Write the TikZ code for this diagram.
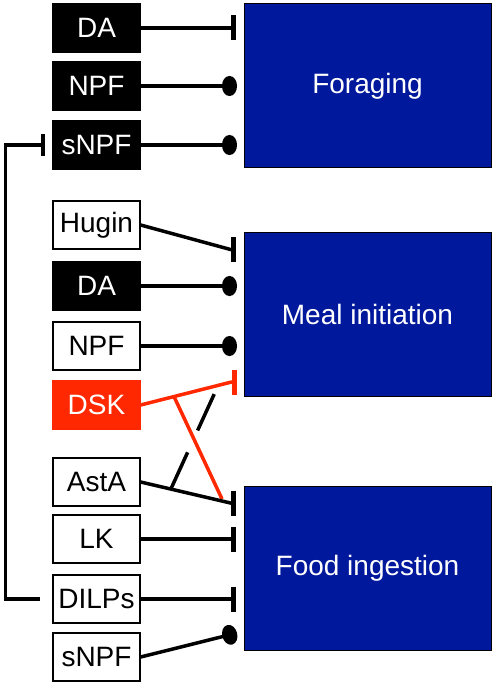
\documentclass[tikz,border=0pt]{standalone}
\usepackage{fontspec}
\setmainfont{Liberation Sans}
\usetikzlibrary{arrows.meta}
\definecolor{navy}{RGB}{0,24,155}
\definecolor{dskred}{RGB}{255,40,0}
\begin{document}
\begin{tikzpicture}[x=1pt,y=-1pt,
  lbl/.style={font=\fontsize{28}{31}\selectfont},
  wbox/.style={lbl, draw=black, line width=1.3pt, fill=white, minimum width=87pt, minimum height=48pt, inner sep=0pt, text=black},
  bbox/.style={wbox, fill=black, text=white},
  rbox/.style={wbox, draw=dskred, fill=dskred, text=white},
  target/.style={lbl, draw=black, line width=1pt, fill=navy, text=white, minimum width=247pt, minimum height=164pt, inner sep=0pt},
  conn/.style={line width=3.5pt},
  inh/.style={conn, -{Bar[width=25pt,line width=4.5pt]}},
  act/.style={conn, -{Circle[length=15pt,width=20pt]}},
]
\useasboundingbox (0,0) rectangle (496,687);

% targets
\node[target] (forage) at (367.5,86) {Foraging};
\node[target] (meal) at (367.5,314) {Meal initiation};
\node[target] (food) at (367.5,568) {Food ingestion};

% sources
\node[bbox] (da1) at (96.5,28) {DA};
\node[bbox] (npf1) at (96.5,86) {NPF};
\node[bbox] (snpf1) at (96.5,145) {sNPF};
\node[wbox] (hugin) at (96.5,225) {Hugin};
\node[bbox] (da2) at (96.5,286) {DA};
\node[wbox] (npf2) at (96.5,346) {NPF};
\node[rbox] (dsk) at (96.5,405) {DSK};
\node[wbox] (asta) at (96.5,482) {AstA};
\node[wbox] (lk) at (96.5,539) {LK};
\node[wbox] (dilps) at (96.5,599) {DILPs};
\node[wbox] (snpf2) at (96.5,657) {sNPF};

% connector end points
\coordinate (fDA1) at (235.5,28);
\coordinate (fNPF1) at (237,86);
\coordinate (fSNPF1) at (237,145);
\coordinate (fHugin) at (235.5,249.5);
\coordinate (fDA2) at (237,286);
\coordinate (fNPF2) at (237,346);
\coordinate (fDSK) at (236.5,382);
\coordinate (fAstA) at (235.5,503);
\coordinate (fLK) at (235.5,539);
\coordinate (fDILPs) at (235.5,599);
\coordinate (fSNPF2) at (237,633);
\coordinate (redEnd) at (222,499);
\coordinate (dashEnd) at (217,388);
\coordinate (dilpsFree) at (40,599);
\coordinate (loopB) at (5.5,599);
\coordinate (loopT) at (5.5,145);

% foraging
\draw[inh] (da1.east) -- (fDA1);
\draw[act] (npf1.east) -- (fNPF1);
\draw[act] (snpf1.east) -- (fSNPF1);

% meal initiation
\draw[inh] (hugin.east) -- ([xshift=-5pt]fHugin) -- (fHugin);
\draw[act] (da2.east) -- (fDA2);
\draw[act] (npf2.east) -- (fNPF2);
\draw[inh, draw=dskred] (dsk.east) -- ([xshift=-5pt]fDSK) -- (fDSK);
\path (dsk.east) -- (fDSK) coordinate[pos=0.35] (dskMid);
\draw[conn, draw=dskred] (dskMid) -- (redEnd);

% food ingestion
\draw[inh] (asta.east) -- ([xshift=-5pt]fAstA) -- (fAstA);
\path (asta.east) -- (fAstA) coordinate[pos=0.32] (astaMid);
\draw[conn, dash pattern=on 40pt off 24pt] (astaMid) -- (dashEnd);
\draw[inh] (lk.east) -- (fLK);
\draw[inh] (dilps.east) -- (fDILPs);
\draw[act] (snpf2.east) -- (fSNPF2);

% DILPs -| sNPF
\draw[conn, -{Bar[width=22pt,line width=4pt]}] (dilpsFree) -- (loopB) -- (loopT) -- ([xshift=-7pt]snpf1.west);
\end{tikzpicture}
\end{document}
